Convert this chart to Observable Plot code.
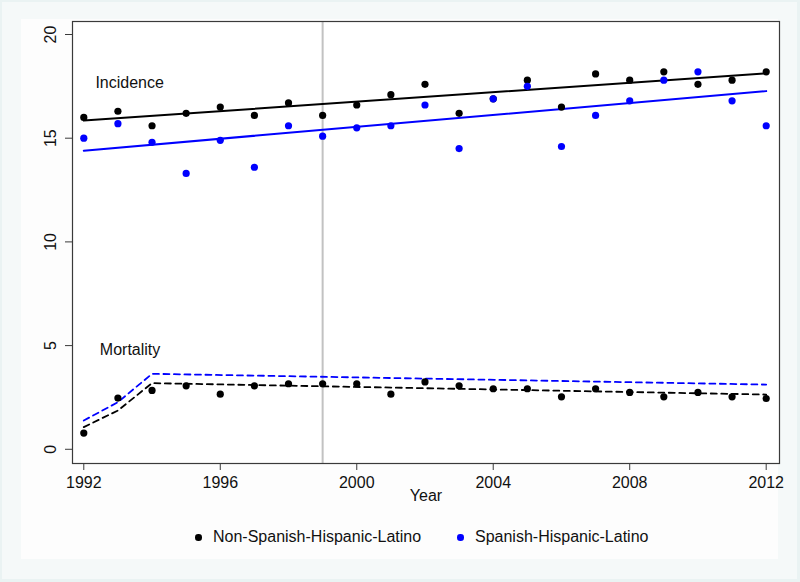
<!DOCTYPE html>
<html>
<head>
<meta charset="utf-8">
<script src="https://cdn.jsdelivr.net/npm/d3@7"></script>
<script src="https://cdn.jsdelivr.net/npm/@observablehq/plot@0.6"></script>
<style>
  html, body { margin: 0; padding: 0; }
  body { width: 800px; height: 582px; background: #eaf3f3; position: relative; overflow: hidden;
         font-family: "Liberation Sans", Arial, sans-serif; }
  #outer { position: absolute; left: 2px; top: 2px; width: 795px; height: 577px; background: #f5f9f9; }
  #panel { position: absolute; left: 21px; top: 19px; width: 757px; height: 540px; background: #fdfdfd; }
  #chart { position: absolute; left: 0; top: 0; }
  #legend { position: absolute; left: 0; top: 527px; width: 800px; height: 22px; font-size: 16px; color: #111; }
  .item { position: absolute; top: 0; line-height: 20px; white-space: nowrap; }
  .dot { position: absolute; width: 6.5px; height: 6.5px; border-radius: 50%; top: 7px; }
</style>
</head>
<body>
<div id="outer"></div>
<div id="panel"></div>
<div id="chart"></div>
<div id="legend"></div>
<script>
// ---- data ----
const years = [1992,1993,1994,1995,1996,1997,1998,1999,2000,2001,2002,2003,2004,2005,2006,2007,2008,2009,2010,2011,2012];
const incidenceNonSHL = [16.0,16.3,15.6,16.2,16.5,16.1,16.7,16.1,16.6,17.1,17.6,16.2,16.9,17.8,16.5,18.1,17.8,18.2,17.6,17.8,18.2];
const incidenceSHL    = [15.0,15.7,14.8,13.3,14.9,13.6,15.6,15.1,15.5,15.6,16.6,14.5,16.9,17.5,14.6,16.1,16.8,17.8,18.2,16.8,15.6];
const mortalityNonSHL = [0.78,2.47,2.84,3.06,2.66,3.06,3.16,3.16,3.16,2.66,3.25,3.06,2.92,2.92,2.53,2.92,2.74,2.53,2.74,2.53,2.45];

const incTrendYears = [1992, 2012];
const incTrendNonSHL = [15.85, 18.13];
const incTrendSHL = [14.4, 17.27];
const mortTrendYears = [1992, 1993, 1994, 2012];
const mortTrendNonSHL = [1.07, 1.87, 3.19, 2.64];
const mortTrendSHL = [1.39, 2.27, 3.64, 3.12];

const xTicks = [1992, 1996, 2000, 2004, 2008, 2012];
const yTicks = [0, 5, 10, 15, 20];
const refYear = [1999];
const seriesNames = ["Non-Spanish-Hispanic-Latino", "Spanish-Hispanic-Latino"];
const seriesColors = ["#000000", "#0000ff"];
const annotations = ["Incidence", "Mortality"];

// ---- build tables ----
const pts = (vals) => years.map((y, i) => ({year: y, value: vals[i]}));
const trend = (ys, vals) => ys.map((y, i) => ({year: y, value: vals[i]}));

const font = '"Liberation Sans", Arial, sans-serif';

const chart = Plot.plot({
  width: 800,
  height: 515,
  marginLeft: 72,
  marginRight: 21,
  marginTop: 21,
  marginBottom: 52,
  style: {fontFamily: font, fontSize: "16px", background: "transparent", color: "#111"},
  x: {domain: [1991.669, 2012.39]},
  y: {domain: [-0.685, 20.627]},
  marks: [
    Plot.frame({fill: "white", stroke: null}),
    Plot.ruleX(refYear, {stroke: "#c2c2c2", strokeWidth: 2}),
    Plot.line(trend(incTrendYears, incTrendNonSHL), {x: "year", y: "value", stroke: seriesColors[0], strokeWidth: 2}),
    Plot.line(trend(incTrendYears, incTrendSHL), {x: "year", y: "value", stroke: seriesColors[1], strokeWidth: 2}),
    Plot.line(trend(mortTrendYears, mortTrendSHL), {x: "year", y: "value", stroke: seriesColors[1], strokeWidth: 1.8, strokeDasharray: "6,4.5"}),
    Plot.line(trend(mortTrendYears, mortTrendNonSHL), {x: "year", y: "value", stroke: seriesColors[0], strokeWidth: 1.8, strokeDasharray: "6,4.5"}),
    Plot.dot(pts(incidenceNonSHL), {x: "year", y: "value", r: 3.6, fill: seriesColors[0], stroke: null}),
    Plot.dot(pts(mortalityNonSHL), {x: "year", y: "value", r: 3.6, fill: seriesColors[0], stroke: null}),
    Plot.dot(pts(incidenceSHL), {x: "year", y: "value", r: 3.6, fill: seriesColors[1], stroke: null}),
    Plot.text([annotations[0]], {x: 1992.34, y: 17.69, text: d => d, textAnchor: "start", fontSize: 16, fill: "#111"}),
    Plot.text([annotations[1]], {x: 1992.47, y: 4.81, text: d => d, textAnchor: "start", fontSize: 16, fill: "#111"}),
    Plot.frame({stroke: "#3a3a3a", strokeWidth: 1.2}),
    Plot.axisX({ticks: xTicks, tickFormat: d => String(d), tickSize: 7, tickPadding: 6, label: null, stroke: "#3a3a3a"}),
    Plot.axisY({ticks: yTicks, tickFormat: d => String(d), tickSize: 7, tickRotate: -90, tickPadding: 10, label: null, stroke: "#3a3a3a"}),
    Plot.text(["Year"], {frameAnchor: "bottom", dy: 37, text: d => d, fontSize: 16, fill: "#111"})
  ]
});
document.getElementById("chart").appendChild(chart);

// ---- legend ----
const legend = document.getElementById("legend");
const legendLeft = [195, 457];
seriesNames.forEach((name, i) => {
  const dot = document.createElement("div");
  dot.className = "dot";
  dot.style.background = seriesColors[i];
  dot.style.left = legendLeft[i] + "px";
  legend.appendChild(dot);
  const item = document.createElement("div");
  item.className = "item";
  item.style.left = (legendLeft[i] + 18) + "px";
  item.textContent = name;
  legend.appendChild(item);
});
</script>
</body>
</html>
